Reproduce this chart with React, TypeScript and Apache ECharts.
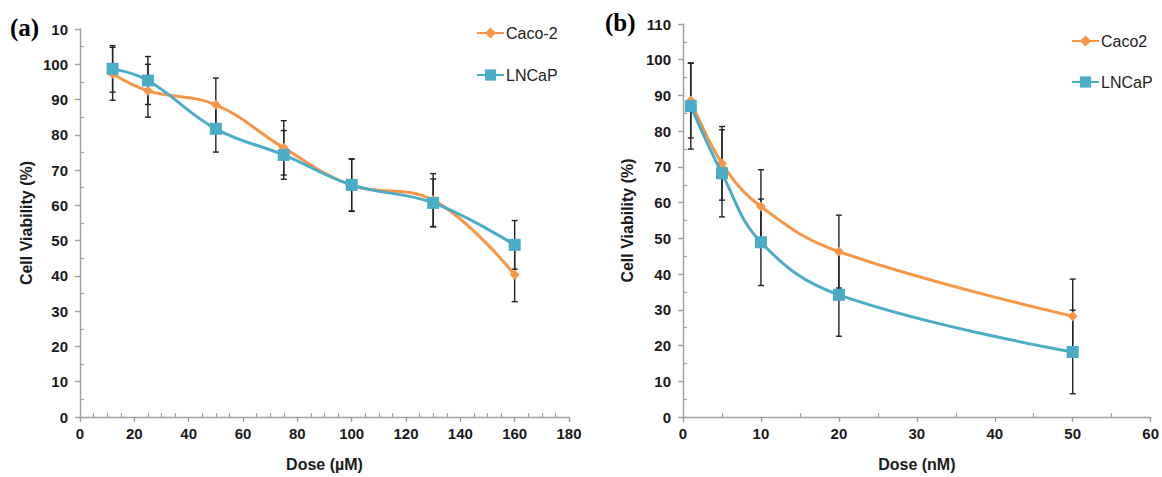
import React, { useEffect, useRef } from "react";
import * as echarts from "echarts";

const doseA = [12, 25, 50, 75, 100, 130, 160];
const cacoA = [97.3, 92.5, 88.5, 76.3, 65.7, 61.5, 40.3];
const cacoErrA = [7.5, 7.5, 7.6, 7.7, 7.4, 7.5, 7.6];
const lncapA = [98.7, 95.4, 81.7, 74.3, 65.8, 60.7, 48.8];
const lncapErrA = [6.6, 6.8, 6.6, 6.9, 7.4, 6.8, 6.9];

const doseB = [1, 5, 10, 20, 50];
const cacoB = [88.6, 71.0, 58.9, 46.3, 28.2];
const cacoErrB = [10.5, 10.3, 10.3, 10.2, 10.4];
const lncapB = [87.0, 68.2, 48.9, 34.2, 18.2];
const lncapErrB = [12.0, 12.2, 12.1, 11.6, 11.7];

const ORANGE = "#F79646";
const BLUE = "#4BACC6";
const FONT = "'Liberation Sans', Arial, sans-serif";

const pts = (xs: number[], ys: number[]) => xs.map((x, i) => [x, ys[i]]);
const errs = (xs: number[], ys: number[], es: number[]) =>
  xs.map((x, i) => [x, ys[i] - es[i], ys[i] + es[i]]);

const errRender = (params: any, api: any) => {
  const x = api.value(0);
  const top = api.coord([x, api.value(2)]);
  const bot = api.coord([x, api.value(1)]);
  const w = 3;
  const style = { stroke: "#222", lineWidth: 1.4 };
  return {
    type: "group",
    children: [
      { type: "line", shape: { x1: top[0], y1: top[1], x2: bot[0], y2: bot[1] }, style },
      { type: "line", shape: { x1: top[0] - w, y1: top[1], x2: top[0] + w, y2: top[1] }, style },
      { type: "line", shape: { x1: bot[0] - w, y1: bot[1], x2: bot[0] + w, y2: bot[1] }, style },
    ],
  };
};

const axisCommon = {
  axisLine: { show: true, lineStyle: { color: "#a0a0a0", width: 1.4 } },
  axisTick: { show: true, length: 5, lineStyle: { color: "#a0a0a0", width: 1.4 } },
  minorTick: { show: true, length: -4, lineStyle: { color: "#a0a0a0", width: 1.2 } },
  splitLine: { show: false },
  axisLabel: { color: "#1a1a1a", fontSize: 15, fontWeight: "bold", fontFamily: FONT },
  nameTextStyle: { color: "#1a1a1a", fontSize: 16, fontWeight: "bold", fontFamily: FONT },
};

export default function App() {
  const ref = useRef<HTMLDivElement>(null);
  useEffect(() => {
    const chart = echarts.init(ref.current!, null, { renderer: "svg" });
    const option: any = {
      animation: false,
      textStyle: { fontFamily: FONT },
      grid: [
        { left: 80, right: 593, top: 29, bottom: 59 },
        { left: 683, right: 9, top: 24, bottom: 59 },
      ],
      xAxis: [
        {
          ...axisCommon,
          type: "value",
          gridIndex: 0,
          min: 0,
          max: 180,
          interval: 20,
          minorTick: { ...axisCommon.minorTick, splitNumber: 4 },
          axisLabel: { ...axisCommon.axisLabel, margin: 9 },
          name: "Dose (µM)",
          nameLocation: "middle",
          nameGap: 39,
        },
        {
          ...axisCommon,
          type: "value",
          gridIndex: 1,
          min: 0,
          max: 60,
          interval: 10,
          minorTick: { ...axisCommon.minorTick, splitNumber: 2 },
          axisLabel: { ...axisCommon.axisLabel, margin: 9 },
          name: "Dose (nM)",
          nameLocation: "middle",
          nameGap: 39,
        },
      ],
      yAxis: [
        {
          ...axisCommon,
          type: "value",
          gridIndex: 0,
          min: 0,
          max: 110,
          interval: 10,
          minorTick: { ...axisCommon.minorTick, splitNumber: 2 },
          axisLabel: {
            ...axisCommon.axisLabel,
            margin: 12,
            formatter: (v: number) => (v === 110 ? "10" : String(v)),
          },
          name: "Cell Viability (%)",
          nameLocation: "middle",
          nameGap: 46,
        },
        {
          ...axisCommon,
          type: "value",
          gridIndex: 1,
          min: 0,
          max: 110,
          interval: 10,
          minorTick: { ...axisCommon.minorTick, splitNumber: 2 },
          axisLabel: { ...axisCommon.axisLabel, margin: 12 },
          name: "Cell Viability (%)",
          nameLocation: "middle",
          nameGap: 48,
        },
      ],
      legend: [
        {
          data: ["Caco-2", "LNCaP"],
          orient: "vertical",
          left: 476,
          top: 25,
          padding: 0,
          itemWidth: 27,
          itemHeight: 14,
          itemGap: 26,
          textStyle: { fontSize: 16, color: "#222", fontFamily: FONT, padding: [0, 0, 0, -3] },
        },
        {
          data: ["Caco2", "LNCaP"],
          orient: "vertical",
          left: 1071,
          top: 33,
          padding: 0,
          itemWidth: 27,
          itemHeight: 14,
          itemGap: 25,
          textStyle: { fontSize: 16, color: "#222", fontFamily: FONT, padding: [0, 0, 0, -3] },
        },
      ],
      graphic: [
        {
          type: "text",
          left: 10,
          top: 15,
          style: { text: "(a)", font: "bold 25px 'Liberation Serif', 'Times New Roman', serif", fill: "#000" },
        },
        {
          type: "text",
          left: 605,
          top: 10,
          style: { text: "(b)", font: "bold 25px 'Liberation Serif', 'Times New Roman', serif", fill: "#000" },
        },
      ],
      series: [
        {
          type: "custom",
          name: "errCacoA",
          xAxisIndex: 0,
          yAxisIndex: 0,
          renderItem: errRender,
          encode: { x: 0, y: [1, 2] },
          data: errs(doseA, cacoA, cacoErrA),
          z: 1,
        },
        {
          type: "custom",
          name: "errLncapA",
          xAxisIndex: 0,
          yAxisIndex: 0,
          renderItem: errRender,
          encode: { x: 0, y: [1, 2] },
          data: errs(doseA, lncapA, lncapErrA),
          z: 1,
        },
        {
          type: "custom",
          name: "errCacoB",
          xAxisIndex: 1,
          yAxisIndex: 1,
          renderItem: errRender,
          encode: { x: 0, y: [1, 2] },
          data: errs(doseB, cacoB, cacoErrB),
          z: 1,
        },
        {
          type: "custom",
          name: "errLncapB",
          xAxisIndex: 1,
          yAxisIndex: 1,
          renderItem: errRender,
          encode: { x: 0, y: [1, 2] },
          data: errs(doseB, lncapB, lncapErrB),
          z: 1,
        },
        {
          type: "line",
          name: "Caco-2",
          xAxisIndex: 0,
          yAxisIndex: 0,
          data: pts(doseA, cacoA),
          smooth: 0.4,
          symbol: "diamond",
          symbolSize: 10,
          color: ORANGE,
          lineStyle: { width: 3, color: ORANGE },
          itemStyle: { color: ORANGE },
          z: 2,
        },
        {
          type: "line",
          name: "LNCaP",
          xAxisIndex: 0,
          yAxisIndex: 0,
          data: pts(doseA, lncapA),
          smooth: 0.4,
          symbol: "rect",
          symbolSize: 12,
          color: BLUE,
          lineStyle: { width: 3, color: BLUE },
          itemStyle: { color: BLUE },
          z: 3,
        },
        {
          type: "line",
          name: "Caco2",
          xAxisIndex: 1,
          yAxisIndex: 1,
          data: pts(doseB, cacoB),
          smooth: 0.4,
          symbol: "diamond",
          symbolSize: 10,
          color: ORANGE,
          lineStyle: { width: 3, color: ORANGE },
          itemStyle: { color: ORANGE },
          z: 2,
        },
        {
          type: "line",
          name: "LNCaP",
          xAxisIndex: 1,
          yAxisIndex: 1,
          data: pts(doseB, lncapB),
          smooth: 0.4,
          symbol: "rect",
          symbolSize: 12,
          color: BLUE,
          lineStyle: { width: 3, color: BLUE },
          itemStyle: { color: BLUE },
          z: 3,
        },
      ],
    };
    chart.setOption(option);
    return () => chart.dispose();
  }, []);
  return (
    <div
      ref={ref}
      style={{ position: "absolute", left: 0, top: 0, width: 1162, height: 477, background: "#fff" }}
    />
  );
}
